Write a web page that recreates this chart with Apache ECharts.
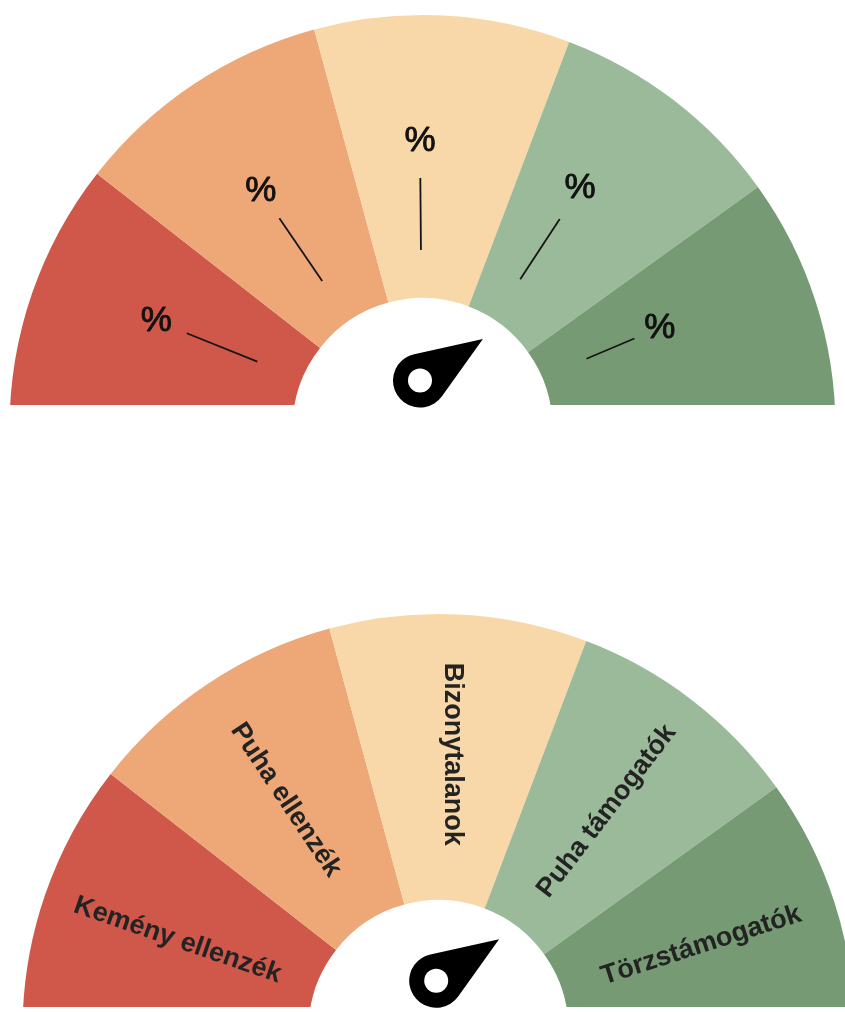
<!DOCTYPE html>
<html>
<head>
<meta charset="utf-8">
<script src="https://cdn.jsdelivr.net/npm/echarts@6/dist/echarts.min.js"></script>
<style>
html,body{margin:0;padding:0;background:#ffffff;}
#c{width:845px;height:1012px;}
</style>
</head>
<body>
<div id="c"></div>
<script>
// ---- data ----
const categories = ['Kemény ellenzék', 'Puha ellenzék', 'Bizonytalanok', 'Puha támogatók', 'Törzstámogatók'];
const segmentValues = [38, 36.8, 36, 33.5, 35.7];
const percentLabels = ['%', '%', '%', '%', '%'];
const labelSlots = [1, 1, 1, 1, 1];
const pointerValue = 81.4;

// ---- styles / layout ----
const colors = ['#D0584B', '#EEA877', '#F8D8A8', '#9BBA9A', '#769B74'];
const FONT = '"Liberation Sans", Arial, Helvetica, sans-serif';
const T = { cx: 422.5, cy: 428, r0: 130, r: 413, px: 420, py: 380.5 };
const B = { cx: 438.5, cy: 1030, r0: 130, r: 416, px: 436.2, py: 980.8 };
const lineLen = [76, 76, 72, 72, 52];
const pctOffsets = [[0, 0], [0, 0], [0, 0], [0, 0], [-27, 12]];

const pointerPath = 'path://M27 0 L52.21 65.73 A27 27 0 1 1 1.79 65.73 Z';

function colorPie(g, withLabels) {
  return {
    type: 'pie',
    center: [g.cx, g.cy],
    radius: [g.r0, g.r],
    startAngle: 180,
    endAngle: 0,
    silent: true,
    avoidLabelOverlap: false,
    z: 2,
    label: withLabels ? {
      show: true,
      position: 'inside',
      rotate: 'radial',
      formatter: '{b}',
      fontFamily: FONT,
      fontWeight: 'bold',
      fontSize: 27,
      color: '#232323'
    } : { show: false },
    labelLine: { show: false },
    itemStyle: { borderWidth: 0 },
    data: categories.map((name, i) => ({
      name,
      value: segmentValues[i],
      itemStyle: { color: colors[i] },
      label: (withLabels && i === 2) ? { rotate: -90 } : undefined
    }))
  };
}

function linePie(g) {
  return {
    type: 'pie',
    center: [g.cx, g.cy],
    radius: [0, 178],
    startAngle: 175,
    endAngle: 6,
    silent: true,
    avoidLabelOverlap: false,
    z: 3,
    itemStyle: { color: 'rgba(0,0,0,0)' },
    label: { show: true, position: 'outside', formatter: ' ', color: 'rgba(0,0,0,0)', fontSize: 10 },
    labelLine: { show: true, length: 76, length2: 0, smooth: false, lineStyle: { color: '#151515', width: 1.8 } },
    data: labelSlots.map((v, i) => ({
      name: categories[i],
      value: v,
      labelLine: { length: lineLen[i] }
    }))
  };
}

function pctPie(g) {
  return {
    type: 'pie',
    center: [g.cx, g.cy],
    radius: [274, 294],
    startAngle: 175,
    endAngle: 6,
    silent: true,
    avoidLabelOverlap: false,
    z: 4,
    itemStyle: { color: 'rgba(0,0,0,0)' },
    label: {
      show: true,
      position: 'inside',
      fontFamily: FONT,
      fontSize: 35,
      color: '#111111',
      textBorderColor: '#111111',
      textBorderWidth: 0.9
    },
    labelLine: { show: false },
    data: labelSlots.map((v, i) => ({
      name: categories[i],
      value: v,
      label: { formatter: percentLabels[i], offset: pctOffsets[i] }
    }))
  };
}

function pointer(g) {
  return {
    type: 'gauge',
    center: [g.px, g.py],
    radius: 76,
    startAngle: 180,
    endAngle: 0,
    min: 0,
    max: 100,
    z: 100,
    silent: true,
    axisLine: { show: false },
    axisTick: { show: false },
    splitLine: { show: false },
    axisLabel: { show: false },
    progress: { show: false },
    title: { show: false },
    detail: { show: false },
    pointer: {
      show: true,
      icon: pointerPath,
      length: 102.4,
      width: 54,
      offsetCenter: [0, 27],
      keepAspect: false,
      itemStyle: { color: '#000000' }
    },
    anchor: {
      show: true,
      showAbove: true,
      size: 24,
      icon: 'circle',
      itemStyle: { color: '#ffffff', borderWidth: 0 }
    },
    data: [{ value: pointerValue }]
  };
}

const chart = echarts.init(document.getElementById('c'), null, { renderer: 'canvas' });
chart.setOption({
  animation: false,
  backgroundColor: '#ffffff',
  graphic: {
    elements: [
      { type: 'rect', z: 50, silent: true, shape: { x: 0, y: 405, width: 845, height: 40 }, style: { fill: '#ffffff' } },
      { type: 'rect', z: 50, silent: true, shape: { x: 0, y: 1007, width: 845, height: 40 }, style: { fill: '#ffffff' } }
    ]
  },
  series: [
    colorPie(T, false),
    linePie(T),
    pctPie(T),
    colorPie(B, true),
    pointer(T),
    pointer(B)
  ]
});
</script>
</body>
</html>
